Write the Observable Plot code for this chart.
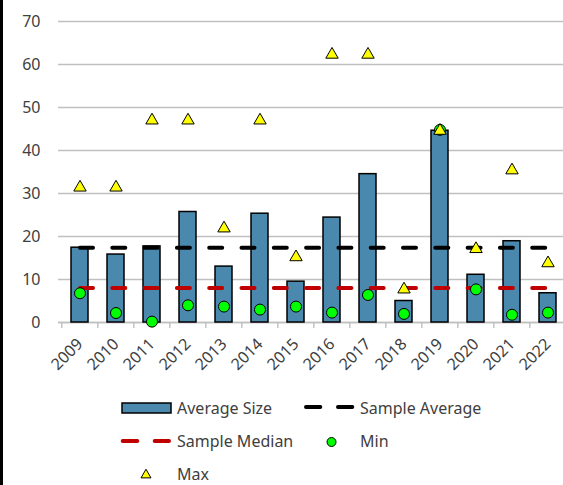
<!DOCTYPE html>
<html>
<head>
<meta charset="utf-8">
<script src="https://cdn.jsdelivr.net/npm/d3@7"></script>
<script src="https://cdn.jsdelivr.net/npm/@observablehq/plot@0.6"></script>
<style>
  html, body { margin: 0; padding: 0; background: #fff; overflow: hidden; }
  #wrap { position: relative; width: 563px; height: 485px; font-family: "Noto Sans", sans-serif; }
  #edge { position: absolute; left: 0; top: 0; width: 3px; height: 485px; background: #000; }
  #legend { position: absolute; left: 0; top: 370px; }
</style>
</head>
<body>
<div id="wrap"><div id="chart"></div><svg id="legend" width="563" height="115"></svg><div id="edge"></div></div>
<script>
const years = ["2009","2010","2011","2012","2013","2014","2015","2016","2017","2018","2019","2020","2021","2022"];
const averageSize = [17.4, 15.8, 17.7, 25.7, 13.0, 25.3, 9.5, 24.4, 34.5, 5.0, 44.6, 11.1, 18.9, 6.8];
const minValues = [6.8, 2.2, 0.2, 4.0, 3.7, 3.0, 3.7, 2.3, 6.4, 2.0, 44.8, 7.7, 1.8, 2.3];
const maxValues = [31.4, 31.4, 47.0, 47.0, 21.9, 47.0, 15.2, 62.3, 62.3, 7.7, 44.6, 17.1, 35.4, 13.8];
const sampleAverage = 17.4;
const sampleMedian = 8.0;
const yTicks = [0, 10, 20, 30, 40, 50, 60, 70];
const legendLabels = ["Average Size", "Sample Average", "Sample Median", "Min", "Max"];

const BLUE = "#4a89ad", RED = "#c00000", GREEN = "#00ff00", YELLOW = "#ffff00", GRID = "#c0c0c0", TEXT = "#404040";

const rows = years.map((year, i) => ({
  year, avg: averageSize[i], min: minValues[i], max: maxValues[i], sampleAverage, sampleMedian
}));

const chart = Plot.plot({
  width: 563, height: 370,
  marginLeft: 58, marginRight: 0, marginTop: 21, marginBottom: 48,
  style: { fontFamily: "Noto Sans", fontSize: "16px", color: TEXT, background: "transparent", overflow: "visible" },
  x: { type: "band", domain: years, range: [58, 568], paddingInner: 0.53, paddingOuter: 0.265 },
  y: { domain: [0, 70] },
  marks: [
    Plot.gridY(yTicks, { stroke: GRID, strokeOpacity: 1, strokeWidth: 1.4 }),
    Plot.axisY(yTicks, { tickSize: 0, tickPadding: 18, fontSize: 16, label: null }),
    Plot.ruleY([0], { stroke: GRID, strokeWidth: 1.4 }),
    Plot.ruleX(years, { x: d => d, y1: 0, y2: -1.4, dx: -18.2, stroke: GRID, strokeWidth: 1.4 }),
    Plot.axisX({ tickSize: 0, tickRotate: -45, tickPadding: 19, fontSize: 16, label: null }),
    Plot.barY(rows, { x: "year", y: "avg", fill: BLUE, stroke: "#000", strokeWidth: 1.5 }),
    Plot.lineY(rows, { x: "year", y: "sampleAverage", stroke: "#000", strokeWidth: 4, strokeDasharray: "13,19.3", strokeLinecap: "round" }),
    Plot.lineY(rows, { x: "year", y: "sampleMedian", stroke: RED, strokeWidth: 4, strokeDasharray: "13,19.3", strokeLinecap: "round" }),
    Plot.dot(rows, { x: "year", y: "min", r: 5.5, fill: GREEN, stroke: "#000", strokeWidth: 1 }),
    Plot.dot(rows, { x: "year", y: "max", symbol: "triangle", r: 4.6, fill: YELLOW, stroke: "#000", strokeWidth: 1 })
  ]
});
document.getElementById("chart").appendChild(chart);

// Legend
const lg = d3.select("#legend");
const rowY = [38, 71, 104];
function label(x, y, t) {
  lg.append("text").attr("x", x).attr("y", y).attr("dy", "0.35em")
    .attr("font-family", "Noto Sans").attr("font-size", 16).attr("fill", TEXT).text(t);
}
// Average Size
lg.append("rect").attr("x", 122).attr("y", rowY[0] - 5).attr("width", 49).attr("height", 10)
  .attr("fill", BLUE).attr("stroke", "#000").attr("stroke-width", 1.5);
label(177, rowY[0], legendLabels[0]);
// Sample Average
lg.append("line").attr("x1", 306).attr("x2", 354).attr("y1", rowY[0] - 1).attr("y2", rowY[0] - 1)
  .attr("stroke", "#000").attr("stroke-width", 4).attr("stroke-linecap", "round").attr("stroke-dasharray", "14.3,17.7");
label(360, rowY[0], legendLabels[1]);
// Sample Median
lg.append("line").attr("x1", 122.7).attr("x2", 169).attr("y1", rowY[1]).attr("y2", rowY[1])
  .attr("stroke", RED).attr("stroke-width", 4).attr("stroke-linecap", "round").attr("stroke-dasharray", "14.6,17.4");
label(177, rowY[1], legendLabels[2]);
// Min
lg.append("circle").attr("cx", 331.5).attr("cy", rowY[1] + 1).attr("r", 4.5)
  .attr("fill", GREEN).attr("stroke", "#000").attr("stroke-width", 1);
label(360, rowY[1], legendLabels[3]);
// Max
lg.append("path").attr("d", d3.symbol(d3.symbolTriangle, 43)()).attr("transform", `translate(146,${rowY[2] + 1})`)
  .attr("fill", YELLOW).attr("stroke", "#000").attr("stroke-width", 1);
label(177, rowY[2], legendLabels[4]);
</script>
</body>
</html>
